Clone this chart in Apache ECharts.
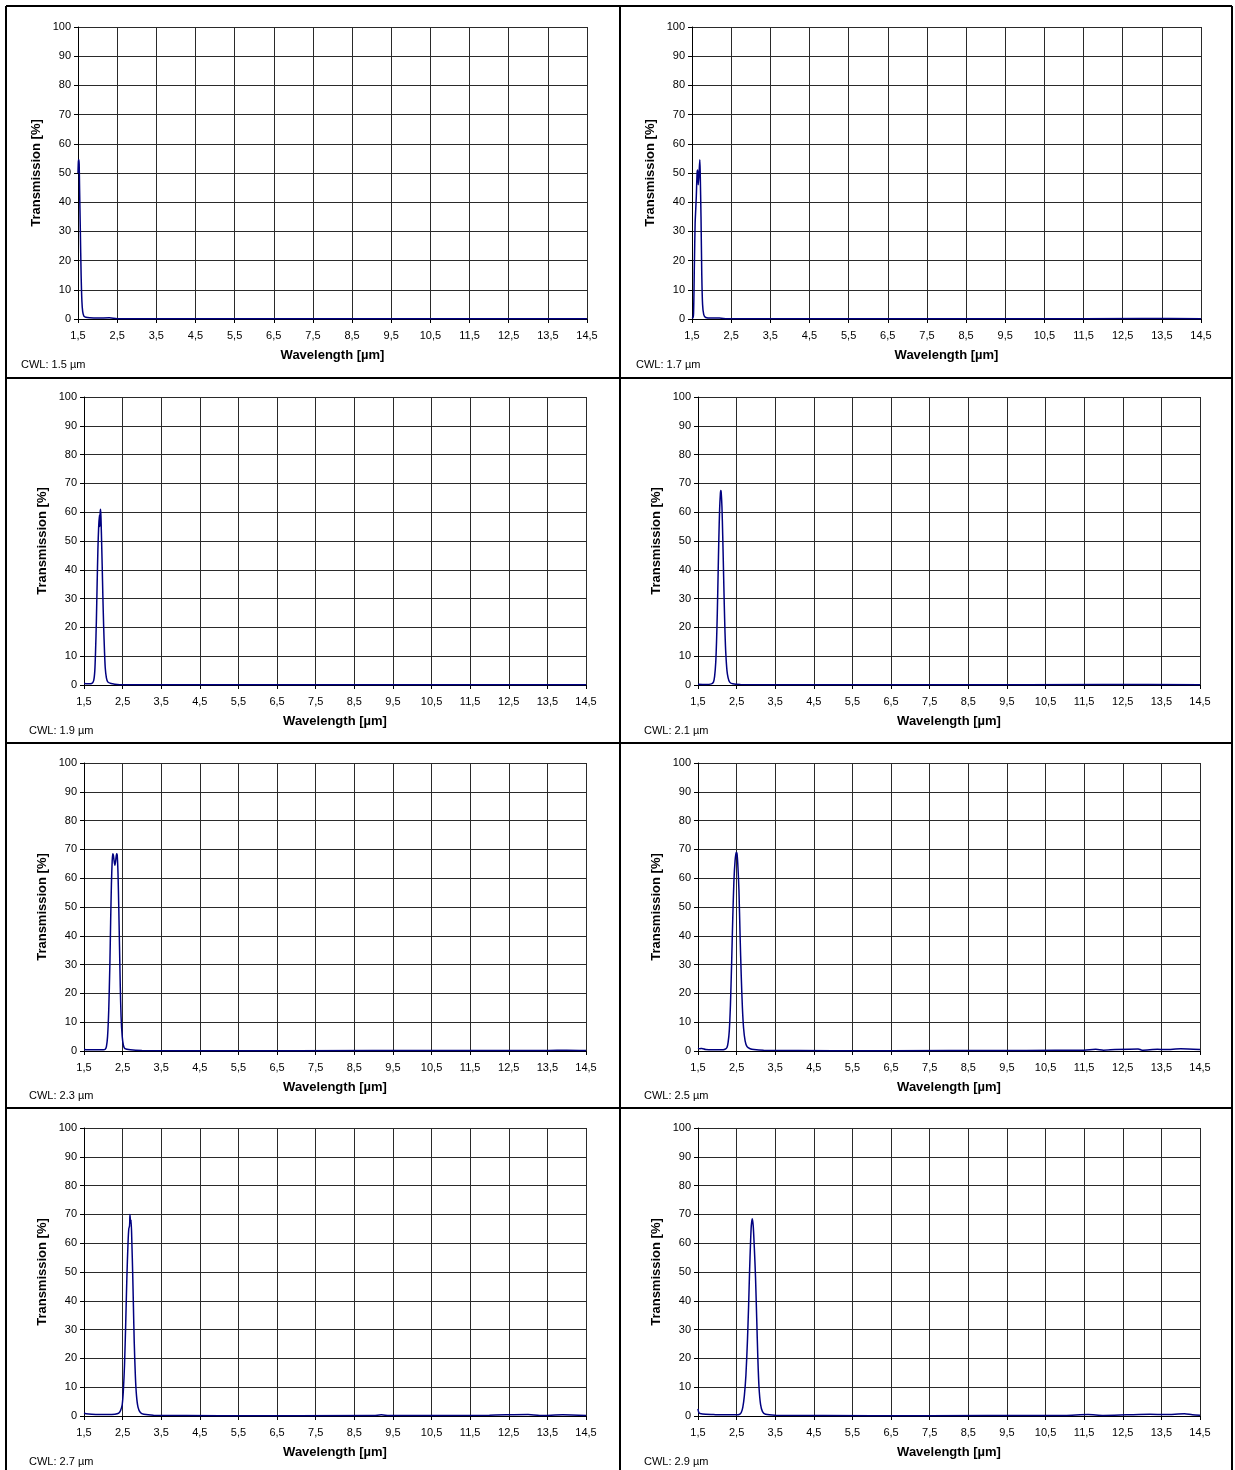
<!DOCTYPE html>
<html>
<head>
<meta charset="utf-8">
<script src="https://cdn.jsdelivr.net/npm/echarts@6/dist/echarts.min.js"></script>
<style>
  html, body { margin: 0; padding: 0; background: #fff; }
  #chart { width: 1235px; height: 1470px; }
</style>
</head>
<body>
<div id="chart"></div>
<script>
// Filter transmission spectra: pairs of [wavelength in µm, transmission in %]
const cwlValues = ['1.5', '1.7', '1.9', '2.1', '2.3', '2.5', '2.7', '2.9'];

const spec15 = [
  [1.50, 50], [1.51, 54], [1.52, 54.5], [1.53, 53], [1.54, 45], [1.56, 30], [1.58, 15],
  [1.60, 6], [1.62, 2.5], [1.65, 1], [1.70, 0.6], [1.80, 0.4], [2.00, 0.3], [2.30, 0.4],
  [2.50, 0.1], [3.5, 0.05], [6.0, 0.1], [9.0, 0.1], [12.0, 0.1], [14.5, 0.1]
];
const spec17 = [
  [1.50, 0.5], [1.52, 0.3], [1.54, 2], [1.56, 18], [1.58, 33], [1.59, 36], [1.61, 42],
  [1.63, 50], [1.645, 51], [1.66, 46], [1.68, 50], [1.70, 54.5], [1.71, 50], [1.73, 35],
  [1.75, 15], [1.77, 5], [1.80, 1.5], [1.85, 0.5], [2.00, 0.3], [2.20, 0.3], [2.40, 0.1],
  [4.0, 0.05], [7.0, 0.1], [10.0, 0.1], [13.0, 0.15], [14.5, 0.1]
];
const spec19 = [
  [1.50, 0.5], [1.60, 0.4], [1.70, 0.5], [1.75, 1.5], [1.78, 5], [1.80, 12], [1.82, 22],
  [1.84, 35], [1.86, 47], [1.88, 55], [1.90, 59], [1.91, 55], [1.92, 60], [1.93, 61],
  [1.94, 58], [1.95, 53], [1.97, 42], [1.99, 30], [2.01, 20], [2.03, 12], [2.05, 6],
  [2.08, 2.5], [2.12, 1], [2.20, 0.5], [2.30, 0.3], [2.50, 0.1], [4.0, 0.05], [8.0, 0.1],
  [11.0, 0.1], [14.5, 0.1]
];
const spec21 = [
  [1.50, 0.3], [1.70, 0.2], [1.85, 0.4], [1.90, 1], [1.93, 3], [1.96, 8], [1.98, 15],
  [2.00, 25], [2.02, 38], [2.04, 51], [2.06, 61], [2.08, 66.5], [2.09, 67.5], [2.10, 67],
  [2.12, 62], [2.14, 52], [2.16, 40], [2.18, 28], [2.20, 18], [2.22, 11], [2.25, 5],
  [2.28, 2.5], [2.32, 1], [2.40, 0.4], [2.60, 0.2], [4.0, 0.1], [8.0, 0.1], [12.0, 0.15],
  [14.5, 0.1]
];
const spec23 = [
  [1.50, 0.5], [1.60, 0.4], [1.80, 0.4], [2.00, 0.4], [2.05, 0.6], [2.08, 1.5], [2.11, 5],
  [2.14, 14], [2.17, 30], [2.19, 45], [2.21, 58], [2.23, 66], [2.245, 68.5], [2.26, 68],
  [2.28, 66], [2.30, 64.5], [2.32, 66], [2.345, 68.5], [2.36, 68], [2.38, 62], [2.40, 50],
  [2.42, 36], [2.44, 22], [2.46, 12], [2.49, 5], [2.52, 2], [2.56, 0.8], [2.70, 0.4],
  [3.00, 0.2], [5.0, 0.1], [9.0, 0.15], [12.0, 0.2], [13.5, 0.2], [14.0, 0.3], [14.5, 0.2]
];
const spec25 = [
  [1.50, 1], [1.55, 0.8], [1.60, 0.9], [1.70, 0.5], [1.90, 0.4], [2.10, 0.4], [2.20, 0.6],
  [2.25, 1.2], [2.28, 3], [2.31, 7], [2.34, 16], [2.37, 30], [2.40, 46], [2.43, 59],
  [2.46, 66], [2.49, 69], [2.51, 68.5], [2.53, 65], [2.56, 56], [2.59, 40], [2.62, 26],
  [2.65, 15], [2.68, 8], [2.72, 3.5], [2.77, 1.5], [2.85, 0.8], [2.95, 0.5], [3.20, 0.3],
  [5.0, 0.1], [8.0, 0.15], [10.0, 0.2], [11.5, 0.3], [11.8, 0.6], [12.0, 0.3], [12.3, 0.5],
  [12.9, 0.7], [13.0, 0.3], [13.4, 0.6], [13.6, 0.5], [14.0, 0.8], [14.5, 0.5]
];
const spec27 = [
  [1.50, 1], [1.55, 0.8], [1.70, 0.6], [1.90, 0.5], [2.10, 0.5], [2.30, 0.6], [2.40, 1],
  [2.45, 2], [2.49, 4], [2.52, 9], [2.55, 18], [2.58, 32], [2.61, 48], [2.64, 60],
  [2.66, 65], [2.68, 66], [2.69, 70], [2.70, 68], [2.71, 67], [2.72, 68], [2.74, 60],
  [2.76, 50], [2.78, 38], [2.80, 26], [2.83, 14], [2.86, 7], [2.90, 3], [2.96, 1.2],
  [3.05, 0.6], [3.30, 0.3], [5.0, 0.1], [9.0, 0.2], [9.2, 0.4], [9.4, 0.15], [12.0, 0.3],
  [13.0, 0.5], [13.3, 0.2], [13.9, 0.4], [14.5, 0.2]
];
const spec29 = [
  [1.50, 2.5], [1.52, 1.2], [1.55, 0.9], [1.70, 0.6], [1.90, 0.5], [2.10, 0.4], [2.30, 0.4],
  [2.50, 0.4], [2.58, 0.6], [2.62, 1.2], [2.66, 3], [2.70, 7], [2.74, 14], [2.78, 26],
  [2.81, 38], [2.835, 50], [2.86, 60], [2.88, 66], [2.905, 68.5], [2.93, 66], [2.96, 58],
  [2.99, 48], [3.02, 34], [3.05, 20], [3.08, 10], [3.12, 4], [3.17, 1.5], [3.25, 0.6],
  [3.50, 0.3], [6.0, 0.1], [9.0, 0.15], [11.0, 0.2], [11.6, 0.5], [12.0, 0.2], [12.6, 0.4],
  [13.2, 0.6], [13.6, 0.5], [14.1, 0.8], [14.3, 0.4], [14.5, 0.3]
];

const spectra = [spec15, spec17, spec19, spec21, spec23, spec25, spec27, spec29];

// Plot-area rectangles for the 2 x 4 panel layout
const plotBoxes = [
  { left: 78,  right: 587,  top: 27,   bottom: 319 },
  { left: 692, right: 1201, top: 27,   bottom: 319 },
  { left: 84,  right: 586,  top: 397,  bottom: 685 },
  { left: 698, right: 1200, top: 397,  bottom: 685 },
  { left: 84,  right: 586,  top: 763,  bottom: 1051 },
  { left: 698, right: 1200, top: 763,  bottom: 1051 },
  { left: 84,  right: 586,  top: 1128, bottom: 1416 },
  { left: 698, right: 1200, top: 1128, bottom: 1416 }
];
const captionPos = [
  [21, 364], [636, 364], [29, 730], [644, 730],
  [29, 1095], [644, 1095], [29, 1461], [644, 1461]
];

const FONT = '"Liberation Sans", Arial, sans-serif';
const gridColor = '#2a2a2a';

const grids = [], xAxes = [], yAxes = [], series = [], graphics = [];

plotBoxes.forEach((b, i) => {
  grids.push({
    left: b.left, top: b.top,
    width: b.right - b.left, height: b.bottom - b.top,
    containLabel: false
  });
  xAxes.push({
    type: 'value', gridIndex: i, min: 1.5, max: 14.5, interval: 1,
    name: 'Wavelength [µm]', nameLocation: 'middle', nameGap: 30,
    nameTextStyle: { fontFamily: FONT, fontSize: 13, fontWeight: 'bold', color: '#000' },
    axisLine: { show: true, onZero: false, lineStyle: { color: '#000', width: 1 } },
    axisTick: { show: true, length: 4, lineStyle: { color: '#000' } },
    axisLabel: {
      fontFamily: FONT, fontSize: 11, color: '#000', margin: 11,
      formatter: v => v.toFixed(1).replace('.', ',')
    },
    splitLine: { show: true, lineStyle: { color: gridColor, width: 1 } }
  });
  yAxes.push({
    type: 'value', gridIndex: i, min: 0, max: 100, interval: 10,
    name: 'Transmission [%]', nameLocation: 'middle', nameGap: 35, nameRotate: 90,
    nameTextStyle: { fontFamily: FONT, fontSize: 13, fontWeight: 'bold', color: '#000' },
    axisLine: { show: true, lineStyle: { color: '#000', width: 1 } },
    axisTick: { show: true, length: 4, lineStyle: { color: '#000' } },
    axisLabel: { fontFamily: FONT, fontSize: 11, color: '#000', margin: 7 },
    splitLine: { show: true, lineStyle: { color: gridColor, width: 1 } }
  });
  series.push({
    type: 'line', xAxisIndex: i, yAxisIndex: i,
    data: spectra[i], showSymbol: false, smooth: 0.25,
    lineStyle: { color: '#000080', width: 1.5 },
    silent: true, animation: false
  });
  graphics.push({
    type: 'text', left: captionPos[i][0], top: captionPos[i][1] - 5,
    style: { text: 'CWL: ' + cwlValues[i] + ' µm', font: '11px ' + FONT, fill: '#000' }
  });
});

// Panel frame lines
const frameLines = [
  [6, 6, 1232, 6], [6, 378, 1232, 378], [6, 743, 1232, 743], [6, 1108, 1232, 1108],
  [6, 6, 6, 1470], [620, 6, 620, 1470], [1232, 6, 1232, 1470]
];
frameLines.forEach(l => graphics.push({
  type: 'line', shape: { x1: l[0], y1: l[1], x2: l[2], y2: l[3] },
  style: { stroke: '#000', lineWidth: 2 }, silent: true
}));

const chart = echarts.init(document.getElementById('chart'), null, { renderer: 'canvas' });
chart.setOption({
  backgroundColor: '#fff',
  animation: false,
  grid: grids,
  xAxis: xAxes,
  yAxis: yAxes,
  series: series,
  graphic: graphics
});
</script>
</body>
</html>
